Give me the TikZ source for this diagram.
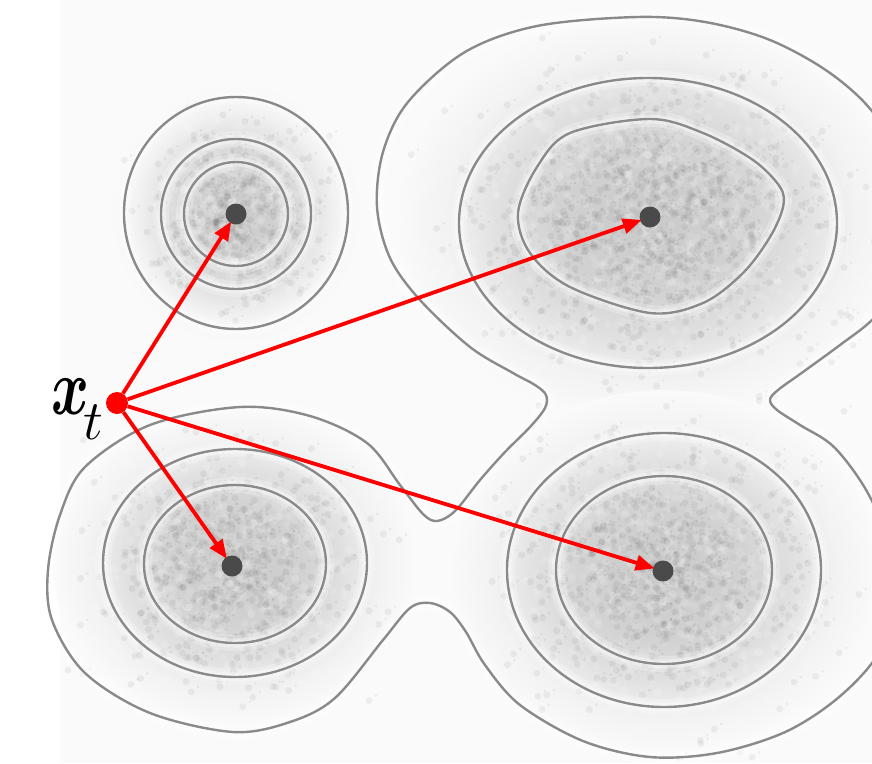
\RequirePackage{fix-cm}
\documentclass[tikz,border=0pt]{standalone}
\usepackage{graphicx}
\usetikzlibrary{arrows.meta}
\definecolor{bgc}{HTML}{FAFAFA}
\definecolor{cline}{HTML}{8A8A8A}
\definecolor{cdotc}{HTML}{4A4A4A}
\definecolor{xred}{HTML}{FF0000}
\colorlet{g0}{black!21}
\colorlet{g1}{black!18}
\colorlet{g2}{black!12}
\colorlet{g3}{black!5}
\pgfdeclareradialshading{blob}{\pgfpoint{0bp}{0bp}}{color(0bp)=(g0); color(9bp)=(g1); color(15bp)=(g2); color(20bp)=(g3); color(25bp)=(bgc); color(50bp)=(bgc)}
\newcommand\contourset[1]{%
  \draw[white,line width=16pt,opacity=.25] #1;
  \draw[white,line width=9pt,opacity=.35] #1;
  \draw[white,line width=4pt,opacity=.45] #1;
  \draw[cline,line width=2.4pt] #1;}
\def\OuterPath{plot[smooth cycle, tension=0.55] coordinates {
 (240,407) (310,416) (367,443) (400,485) (423,514) (437,521) (455,511) (480,480) (505,452) (530,427) (545,408) (546,395) (535,385) (513,373) (470,347) (420,300) (390,258) (377,207) (383,152) (408,102) (465,52) (537,26) (637,17) (705,22) (770,40) (830,73) (875,115) (905,175) (910,240) (895,290) (872,320) (840,345) (803,372) (778,390) (770,400) (777,410) (800,425) (835,448) (870,497) (893,560) (893,620) (872,663) (833,702) (783,733) (717,753) (650,757) (583,741) (520,705) (485,665) (466,632) (450,612) (430,603) (410,608) (383,640) (335,698) (290,722) (233,732) (150,713) (85,673) (52,620) (48,570) (60,515) (85,467) (150,425)}}
\def\TearPath{plot[smooth cycle, tension=0.55] coordinates {
 (650,119) (703,133) (753,160) (780,187) (783,207) (770,237) (743,273) (703,303) (650,313) (570,287) (530,253) (518,213) (537,167) (570,133)}}
\tikzset{
  cdot/.style={circle, fill=cdotc, inner sep=0pt, minimum size=21pt},
  xdot/.style={circle, fill=xred, inner sep=0pt, minimum size=22pt},
  redarrow/.style={xred, line width=3.8pt, -{Triangle[length=19pt,width=15pt]}, shorten >=-2pt}
}
\begin{document}
\begin{tikzpicture}[x=1pt,y=-1pt]
\useasboundingbox (0,0) rectangle (872,763);
\clip (0,0) rectangle (872,763);
\fill[white] (0,0) rectangle (872,763);
\fill[bgc] (60,0) rectangle (872,763);
% density clouds
\shade[shading=blob] (236,214) ellipse [x radius=125, y radius=130];
\shade[shading=blob] (650,218) ellipse [x radius=255, y radius=205];
\shade[shading=blob] (235,565) ellipse [x radius=182, y radius=160];
\shade[shading=blob] (664,572) ellipse [x radius=215, y radius=182];
% mottling
\pgfmathsetseed{7}
\foreach \cx/\cy/\rx/\ry/\n in {236/214/70/72/300, 650/218/150/120/700, 235/565/105/95/450, 664/570/125/110/550}{
  \foreach \i in {1,...,\n}{
    \pgfmathsetmacro\px{\cx+\rx*(rand+rand+rand)/1.7}
    \pgfmathsetmacro\py{\cy+\ry*(rand+rand+rand)/1.7}
    \pgfmathsetmacro\qx{\cx+\rx*(rand+rand+rand)/1.7}
    \pgfmathsetmacro\qy{\cy+\ry*(rand+rand+rand)/1.7}
    \fill[black,opacity=0.05] (\px,\py) circle (3.5);
    \fill[white,opacity=0.12] (\qx,\qy) circle (4);
    \fill[black,opacity=0.06] (\px+7,\py-5) circle (1.4);
  }
}
% contours
\contourset{\OuterPath}
\contourset{\TearPath}
\contourset{(648,223) ellipse [x radius=189, y radius=145]}
\contourset{(236,213) ellipse [x radius=112, y radius=116]}
\contourset{(236,214) circle (75)}
\contourset{(236,214) circle (52)}
\contourset{(235,563) ellipse [x radius=132, y radius=114]}
\contourset{(235,564) ellipse [x radius=91, y radius=79]}
\contourset{(664,570) ellipse [x radius=157, y radius=137]}
\contourset{(664,570) ellipse [x radius=108, y radius=94]}
% centres
\node[cdot] (c1) at (236,214) {};
\node[cdot] (c2) at (650,217) {};
\node[cdot] (c3) at (232,566) {};
\node[cdot] (c4) at (663,571) {};
\node[xdot] (x) at (117,403) {};
\draw[redarrow] (x) -- (c1);
\draw[redarrow] (x) -- (c2);
\draw[redarrow] (x) -- (c3);
\draw[redarrow] (x) -- (c4);
\node[anchor=base west, inner sep=0pt, font=\fontsize{80}{80}\selectfont] (lbl) at (51,414) {$\scalebox{0.72}[1]{\boldmath$x$}_{\kern-6pt\lower13pt\hbox{$\scriptstyle t$}}$};
\end{tikzpicture}
\end{document}
